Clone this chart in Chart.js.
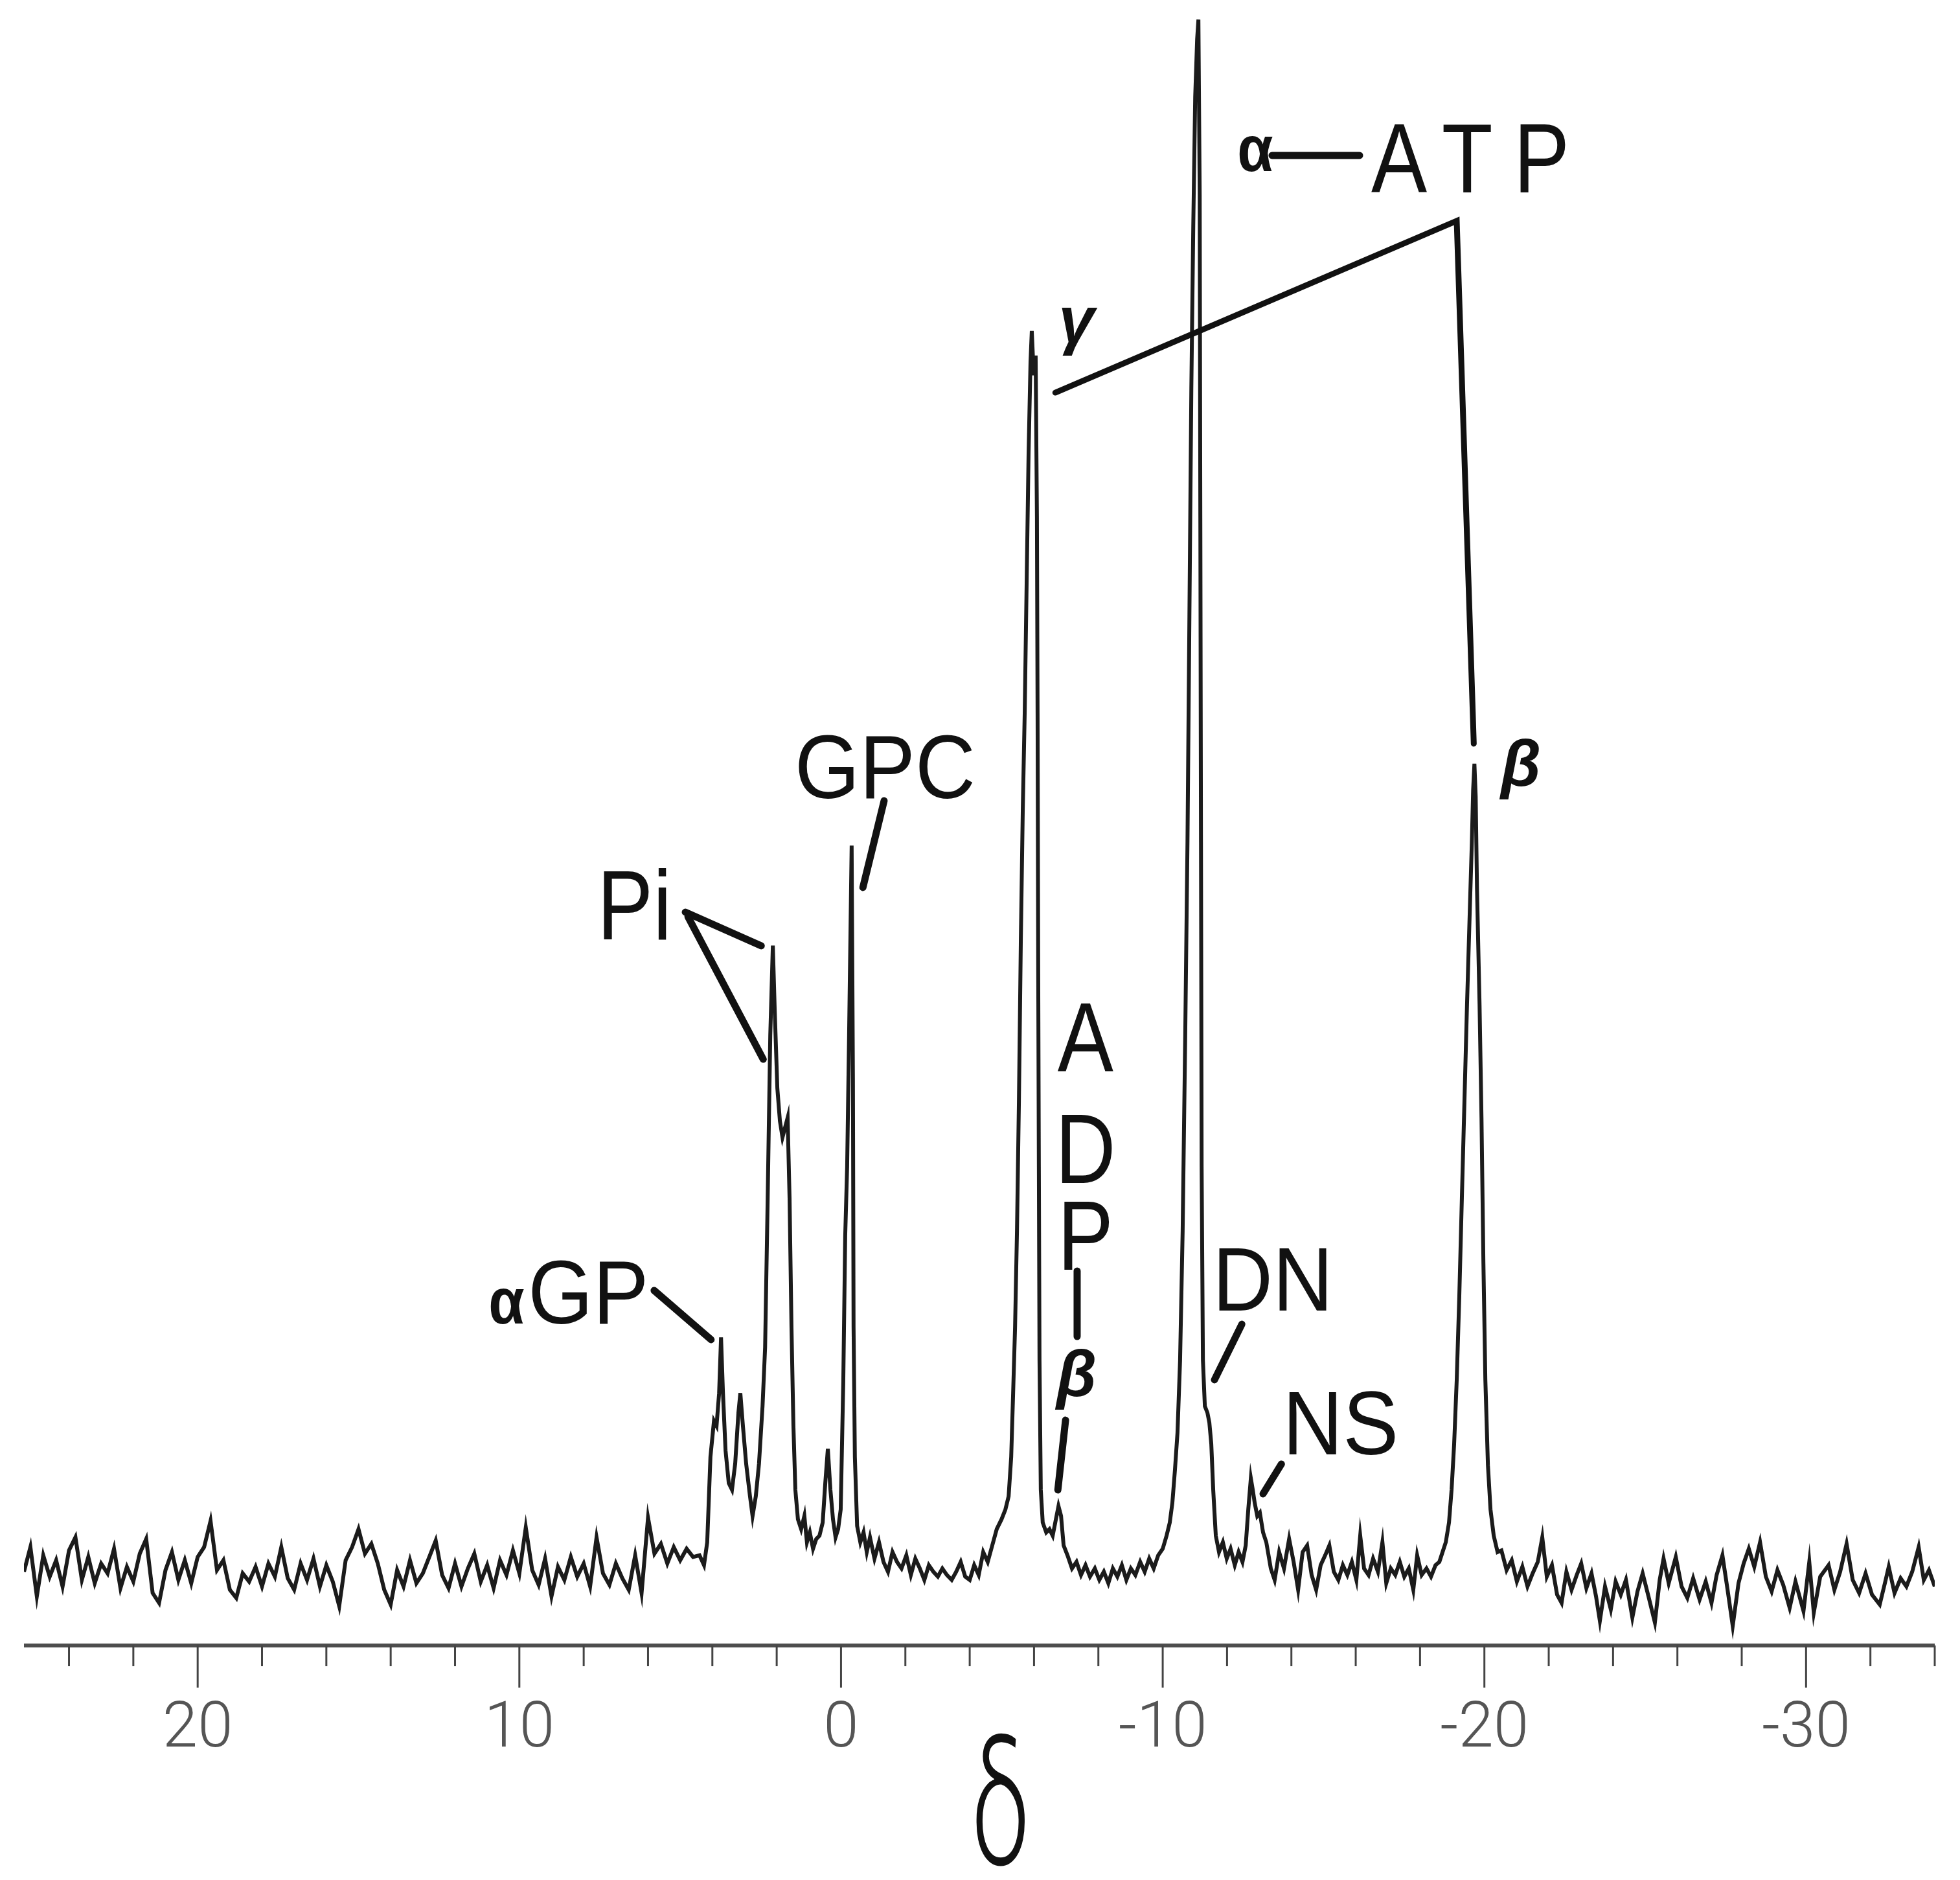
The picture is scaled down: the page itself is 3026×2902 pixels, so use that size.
<!DOCTYPE html>
<html>
<head>
<meta charset="utf-8">
<script src="https://cdn.jsdelivr.net/npm/chart.js@4.4.1/dist/chart.umd.min.js"></script>
<style>
  html, body { margin: 0; padding: 0; background: #fff; }
  canvas { display: block; }
</style>
</head>
<body>
<canvas id="espectro" width="3026" height="2902"></canvas>
<script>
// DATOS DEL ESPECTRO: [desplazamiento (ppm), intensidad relativa]
var baseIzquierda = [
  [25.4,4.5],[25.2,6.0],[25.0,3.0],[24.8,5.5],[24.6,4.2],[24.4,5.2],[24.2,3.6],[24.0,5.8],[23.8,6.6],[23.6,4.0],
  [23.4,5.4],[23.2,3.8],[23.0,5.0],[22.8,4.4],[22.6,5.9],[22.4,3.5],[22.2,4.8],[22.0,3.9],[21.8,5.6],[21.6,6.5],
  [21.4,3.2],[21.2,2.6],[21.0,4.6],[20.8,5.7],[20.6,4.0],[20.4,5.2],[20.2,3.8],[20.0,5.4],[19.8,6.0],[19.6,7.6],
  [19.4,4.6],[19.2,5.2],[19.0,3.4],[18.8,2.9],[18.6,4.4],[18.4,3.9],[18.2,4.8],[18.0,3.6],[17.8,5.0],[17.6,4.2],
  [17.4,6.0],[17.2,4.1],[17.0,3.4],[16.8,5.0],[16.6,4.0],[16.4,5.3],[16.2,3.6],[16.0,4.9],[15.8,3.9],[15.6,2.4],
  [15.4,5.2],[15.2,6.0],[15.0,7.1],[14.8,5.6],[14.6,6.2],[14.4,5.0],[14.2,3.4],[14.0,2.5],[13.8,4.6],[13.6,3.6],
  [13.4,5.2],[13.2,3.8],[13.0,4.4],[12.8,5.4],[12.6,6.4],[12.4,4.3],[12.2,3.5],[12.0,5.0],[11.8,3.6],[11.6,4.7],
  [11.4,5.6],[11.2,3.9],[11.0,4.9],[10.8,3.5],[10.6,5.2],[10.4,4.3],[10.2,5.8],[10.0,4.4],[9.8,7.2],[9.6,4.6],
  [9.4,3.7],[9.2,5.3],[9.0,3.0],[8.8,4.8],[8.6,4.0],[8.4,5.4],[8.2,4.2],[8.0,5.0],[7.8,3.6],[7.6,6.6],
  [7.4,4.4],[7.2,3.7],[7.0,5.0],[6.8,4.1],[6.6,3.4],[6.4,5.5],[6.2,3.2],[6.0,7.8],[5.8,5.6],[5.6,6.2],
  [5.4,5.0],[5.2,6.0],[5.0,5.2],[4.8,5.9],[4.6,5.4]
];

var zonaPicos = [
  [4.40,5.5],[4.26,4.9],[4.16,6.3],[4.06,11.5],[3.95,13.7],[3.87,13.4],[3.79,15.4],[3.73,18.8],[3.67,15.4],[3.59,11.9],
  [3.49,9.9],[3.39,9.5],[3.29,11.1],[3.19,14.2],[3.13,15.4],[3.05,13.4],[2.95,11.1],[2.83,9.1],[2.75,7.9],[2.65,9.1],
  [2.55,11.1],[2.44,14.6],[2.36,18.2],[2.28,27.3],[2.20,37.2],[2.12,42.7],[2.06,38.7],[1.98,34.0],[1.90,32.0],[1.82,31.0],
  [1.74,31.6],[1.66,32.2],[1.60,27.3],[1.54,19.4],[1.48,13.4],[1.42,9.5],[1.34,7.7],[1.24,7.1],[1.14,7.9],[1.06,6.3],
  [0.97,6.9],[0.87,5.9],[0.77,6.5],[0.67,6.7],[0.57,7.5],[0.49,9.9],[0.41,12.0],[0.33,9.5],[0.25,7.7],[0.17,6.6],
  [0.09,7.1],[0.01,8.3],[-0.07,16.1],[-0.13,25.0],[-0.19,29.2],[-0.25,37.2],[-0.33,48.8],[-0.37,34.5],[-0.39,19.4],[-0.43,11.5],
  [-0.50,7.3],[-0.60,6.3],[-0.70,6.9],[-0.80,5.7],[-0.90,6.6],[-1.04,5.3],[-1.18,6.3],[-1.32,5.1],[-1.46,4.5],[-1.60,5.7],
  [-1.74,5.1],[-1.88,4.7],[-2.03,5.5],[-2.17,4.3],[-2.31,5.3],[-2.45,4.7],[-2.59,4.0],[-2.73,4.9],[-2.87,4.5],[-3.01,4.2],
  [-3.15,4.7],[-3.29,4.3],[-3.44,4.0],[-3.58,4.5],[-3.72,5.1],[-3.86,4.2],[-4.00,4.0],[-4.14,4.9],[-4.28,4.3],[-4.42,5.7],
  [-4.56,5.1],[-4.70,6.1],[-4.84,7.1],[-4.99,7.7],[-5.11,8.3],[-5.21,9.1],
  [-5.29,11.5],[-5.35,15.4],[-5.41,19.4],[-5.47,25.3],[-5.53,33.2],[-5.59,43.1],[-5.65,51.0],[-5.71,56.9],[-5.77,64.8],[-5.83,72.7],
  [-5.89,78.3],[-5.93,80.2],[-5.99,77.5],[-6.05,78.7],[-6.09,68.8],[-6.11,56.9],[-6.13,41.1],[-6.15,29.2],[-6.17,17.4],[-6.21,9.5],
  [-6.27,7.5],[-6.38,6.9],[-6.48,7.1],[-6.58,6.7],[-6.68,7.7],[-6.76,8.5],[-6.84,7.9],[-6.92,6.1],
  [-7.04,5.5],[-7.18,4.7],[-7.32,5.1],[-7.46,4.3],[-7.60,4.9],[-7.74,4.2],[-7.89,4.7],[-8.03,4.0],[-8.17,4.5],[-8.31,3.8],
  [-8.45,4.7],[-8.59,4.2],[-8.73,4.9],[-8.87,4.0],[-9.01,4.7],[-9.15,4.3],[-9.30,5.1],[-9.44,4.5],[-9.58,5.3],[-9.72,4.7],
  [-9.86,5.5],[-10.00,5.9],[-10.12,6.7],[-10.22,7.5],
  [-10.30,8.7],[-10.38,10.7],[-10.46,13.0],[-10.54,17.4],[-10.62,25.3],[-10.70,37.2],[-10.77,49.0],[-10.83,62.8],[-10.89,76.7],[-10.95,86.6],
  [-11.01,94.5],[-11.07,98.0],[-11.11,99.2],[-11.15,88.5],[-11.17,68.8],[-11.19,49.0],[-11.21,29.2],[-11.25,17.4],[-11.31,14.6],[-11.39,14.2],
  [-11.45,13.6],[-11.51,12.3],[-11.57,9.5],[-11.65,6.7],[-11.75,5.7],[-11.87,6.3],[-11.99,5.3],[-12.11,5.9],[-12.24,4.9],[-12.36,5.7],
  [-12.48,5.1],[-12.58,6.1],[-12.66,8.3],[-12.74,10.2],[-12.80,9.5],[-12.86,8.7],[-12.94,7.9],[-13.02,8.1],[-13.12,6.9],[-13.22,6.3],
  [-13.36,4.7],[-13.48,4.0],[-13.62,5.7],[-13.77,4.7],[-13.93,6.5],[-14.07,5.1],[-14.21,3.4],[-14.35,5.7],[-14.49,6.1],[-14.63,4.3],
  [-14.77,3.4],[-14.91,4.9],[-15.05,5.5],[-15.18,6.1],[-15.32,4.5],[-15.46,4.0],[-15.60,4.9],[-15.74,4.3],[-15.88,5.1],[-16.02,4.0],
  [-16.14,6.7],[-16.26,4.7],[-16.40,4.3],[-16.54,5.3],[-16.69,4.5],[-16.83,6.3],[-16.95,3.8],[-17.09,4.7],[-17.23,4.3],[-17.37,5.1],
  [-17.51,4.2],[-17.65,4.7],[-17.79,3.4],[-17.91,5.5],[-18.05,4.3],[-18.20,4.7],[-18.34,4.2],[-18.48,4.9],[-18.60,5.1],[-18.70,5.7],
  [-18.80,6.3],[-18.90,7.5],[-18.98,9.5],[-19.06,12.3],[-19.14,16.2],[-19.22,21.3],[-19.30,27.3],[-19.38,33.2],[-19.46,39.1],[-19.55,45.1],
  [-19.61,49.0],[-19.65,52.2],[-19.69,53.8],[-19.73,51.8],[-19.77,46.2],[-19.85,39.1],[-19.91,32.2],[-19.97,23.3],[-20.03,16.2],[-20.11,11.0],
  [-20.19,8.3],[-20.29,6.7],[-20.41,5.7]
];

var baseDerecha = [
  [-20.53,5.8],[-20.69,4.6],[-20.85,5.2],[-21.01,3.9],[-21.18,4.8],[-21.34,3.6],[-21.50,4.4],[-21.66,5.1],[-21.80,6.6],[-21.94,4.2],
  [-22.10,4.9],[-22.26,3.1],[-22.40,2.6],[-22.55,4.5],[-22.71,3.4],[-22.87,4.3],[-23.01,5.0],[-23.17,3.5],[-23.33,4.4],[-23.47,3.0],
  [-23.59,1.5],[-23.75,3.6],[-23.93,2.2],[-24.08,3.9],[-24.24,3.1],[-24.40,4.0],[-24.60,1.7],[-24.76,3.3],[-24.92,4.4],[-25.10,3.0],
  [-25.30,1.4],[-25.45,4.0],[-25.57,5.3],[-25.73,3.8],[-25.95,5.4],[-26.13,3.6],[-26.31,2.9],[-26.49,4.1],[-26.69,2.8],[-26.88,3.9],
  [-27.06,2.6],[-27.22,4.3],[-27.40,5.5],[-27.56,3.4],[-27.72,1.2],[-27.90,3.8],[-28.06,5.0],[-28.22,5.9],[-28.39,4.8],[-28.57,6.3],
  [-28.75,4.2],[-28.93,3.3],[-29.11,4.6],[-29.29,3.7],[-29.49,2.3],[-29.67,3.9],[-29.92,2.1],[-30.10,5.1],[-30.24,2.0],[-30.44,4.2],
  [-30.70,4.9],[-30.88,3.4],[-31.06,4.5],[-31.26,6.2],[-31.45,4.0],[-31.65,3.2],[-31.85,4.4],[-32.05,3.1],[-32.29,2.5],[-32.45,3.8],
  [-32.57,4.8],[-32.75,3.2],[-32.94,4.1],[-33.12,3.6],[-33.30,4.5],[-33.50,6.0],[-33.66,4.0],[-33.82,4.6],[-34.00,3.6]
];

// marcas del eje (ppm) y las que llevan numero
var marcasEje = [24, 22, 20, 18, 16, 14, 12, 10, 8, 6, 4, 2, 0, -2, -4, -6, -8, -10,
                 -12, -14, -16, -18, -20, -22, -24, -26, -28, -30, -32, -34];
var marcasConTexto = [20, 10, 0, -10, -20, -30];

// etiquetas de los picos: texto, ppm, intensidad de la linea base del texto
var etiquetas = [
  { t: 'α', d: 10.96, i: 19.64, e: 'alfa' },
  { t: 'GP', d: 9.73, i: 19.64, e: 'media' },
  { t: 'Pi', d: 7.58, i: 43.08, e: 'grande' },
  { t: 'GPC', d: 1.44, i: 51.70, e: 'media' },
  { t: 'A', d: -7.60, i: 35.02, e: 'grandeCentro' },
  { t: 'D', d: -7.60, i: 28.22, e: 'grandeCentro' },
  { t: 'P', d: -7.60, i: 22.92, e: 'grandeCentro' },
  { t: 'β', d: -7.32, i: 15.22, e: 'griegaCentro' },
  { t: 'γ', d: -6.76, i: 79.53, e: 'griega' },
  { t: 'α', d: -12.32, i: 89.96, e: 'alfa' },
  { t: 'ATP', d: -16.48, i: 88.66, e: 'espaciada' },
  { t: 'β', d: -20.51, i: 52.45, e: 'griega' },
  { t: 'DN', d: -11.55, i: 20.43, e: 'media' },
  { t: 'NS', d: -13.73, i: 11.66, e: 'media' }
];

// lineas guia [ppm1, int1, ppm2, int2]
var lineasGuia = [
  [5.81, 21.66, 4.04, 18.66],
  [4.84, 44.74, 2.48, 42.69],
  [4.76, 44.47, 2.42, 35.77],
  [-1.34, 51.54, -0.68, 46.25],
  [-7.34, 22.85, -7.34, 18.85],
  [-6.98, 13.75, -6.74, 9.49],
  [-13.40, 90.91, -16.12, 90.91],
  [-12.46, 19.60, -11.61, 16.21],
  [-13.69, 11.07, -13.12, 9.25]
];
var corcheteATP = [[-6.66, 76.44], [-19.14, 86.92], [-19.67, 55.02]];


var fuenteLetras = '"Liberation Sans", Arial, sans-serif';
var estilos = {
  grande: { fuente: '152px ' + fuenteLetras, ancho: 0.85 },
  media: { fuente: '140px ' + fuenteLetras, ancho: 0.92 },
  grandeCentro: { fuente: '152px ' + fuenteLetras, ancho: 0.85, alinea: 'center' },
  espaciada: { fuente: '152px ' + fuenteLetras, ancho: 0.85, espacio: 38 },
  alfa: { fuente: 'bold 100px ' + fuenteLetras, ancho: 0.9 },
  griega: { fuente: 'italic bold 100px ' + fuenteLetras, ancho: 1 },
  griegaCentro: { fuente: 'italic bold 100px ' + fuenteLetras, ancho: 1, alinea: 'center' }
};

function aPuntos(lista) {
  return lista.map(function (p) { return { x: p[0], y: p[1] }; });
}

function escribe(ctx, texto, px, py, estilo) {
  ctx.save();
  ctx.translate(px, py);
  ctx.scale(estilo.ancho || 1, 1);
  ctx.font = estilo.fuente;
  ctx.textAlign = estilo.alinea || 'left';
  ctx.textBaseline = 'alphabetic';
  if ('letterSpacing' in ctx) ctx.letterSpacing = (estilo.espacio || 0) + 'px';
  ctx.fillStyle = '#111';
  ctx.fillText(texto, 0, 0);
  ctx.restore();
}

//dibuja el eje con sus marcas, las etiquetas y la delta
var pluginAnotaciones = {
  id: 'anotaciones',
  afterDraw: function (chart) {
    var ctx = chart.ctx;
    var ex = chart.scales.x;
    var ey = chart.scales.y;
    var fondo = chart.chartArea.bottom;

    ctx.save();
    ctx.strokeStyle = '#4d4d4d';
    ctx.lineWidth = 6;
    ctx.beginPath();
    ctx.moveTo(ex.getPixelForValue(ex.max), fondo);
    ctx.lineTo(ex.getPixelForValue(ex.min), fondo);
    ctx.stroke();

    ctx.lineWidth = 3;
    ctx.strokeStyle = '#444';
    marcasEje.forEach(function (v) {
      var px = ex.getPixelForValue(v);
      var largo = marcasConTexto.includes(v) ? 65 : 32;
      ctx.beginPath();
      ctx.moveTo(px, fondo);
      ctx.lineTo(px, fondo + largo);
      ctx.stroke();
    });

    ctx.strokeStyle = '#111';
    ctx.lineCap = 'round';
    ctx.lineWidth = 11;
    lineasGuia.forEach(function (l) {
      ctx.beginPath();
      ctx.moveTo(ex.getPixelForValue(l[0]), ey.getPixelForValue(l[1]));
      ctx.lineTo(ex.getPixelForValue(l[2]), ey.getPixelForValue(l[3]));
      ctx.stroke();
    });

    ctx.lineWidth = 9;
    ctx.lineJoin = 'miter';
    ctx.beginPath();
    corcheteATP.forEach(function (p, k) {
      var px = ex.getPixelForValue(p[0]);
      var py = ey.getPixelForValue(p[1]);
      if (k === 0) ctx.moveTo(px, py); else ctx.lineTo(px, py);
    });
    ctx.stroke();
    ctx.restore();

    etiquetas.forEach(function (et) {
      escribe(ctx, et.t, ex.getPixelForValue(et.d), ey.getPixelForValue(et.i), estilos[et.e]);
    });

    // simbolo del eje
    escribe(ctx, 'δ', ex.getPixelForValue(-4.96), fondo + 338,
      { fuente: '300 265px Roboto, "DejaVu Sans", sans-serif', alinea: 'center', ancho: 0.6 });
  }
};

var ctx = document.getElementById('espectro').getContext('2d');
var myChart = new Chart(ctx, {
  type: 'line',
  data: {
    datasets: [{
      label: '31P',
      data: aPuntos(baseIzquierda).concat(aPuntos(zonaPicos), aPuntos(baseDerecha)),
      borderColor: '#1b1b1b',
      borderWidth: 6,
      pointRadius: 0,
      tension: 0,
      fill: false
    }]
  },
  options: {
    responsive: false,
    animation: false,
    devicePixelRatio: 1,
    layout: { padding: { left: 37, right: 39, top: 10, bottom: 0 } },
    plugins: {
      legend: { display: false },
      tooltip: { enabled: false }
    },
    scales: {
      x: {
        type: 'linear',
        reverse: true,
        min: -34.0,
        max: 25.4,
        grid: { display: false, drawTicks: false },
        border: { display: false },
        afterBuildTicks: function (eje) {
          eje.ticks = marcasEje.map(function (v) { return { value: v }; });
        },
        afterFit: function (eje) {
          eje.height = 362;
          // sin relleno extra a los lados, el area del grafico la marca el layout
          eje.paddingLeft = 0;
          eje.paddingRight = 0;
        },
        ticks: {
          autoSkip: false,
          maxRotation: 0,
          minRotation: 0,
          padding: 73,
          color: '#555',
          font: { family: 'Roboto, "Liberation Sans", sans-serif', size: 98, weight: 300 },
          callback: function (valor) {
            return marcasConTexto.includes(valor) ? String(valor) : '';
          }
        }
      },
      y: {
        display: false,
        min: 0,
        max: 100
      }
    }
  },
  plugins: [pluginAnotaciones]
});
</script>
</body>
</html>
